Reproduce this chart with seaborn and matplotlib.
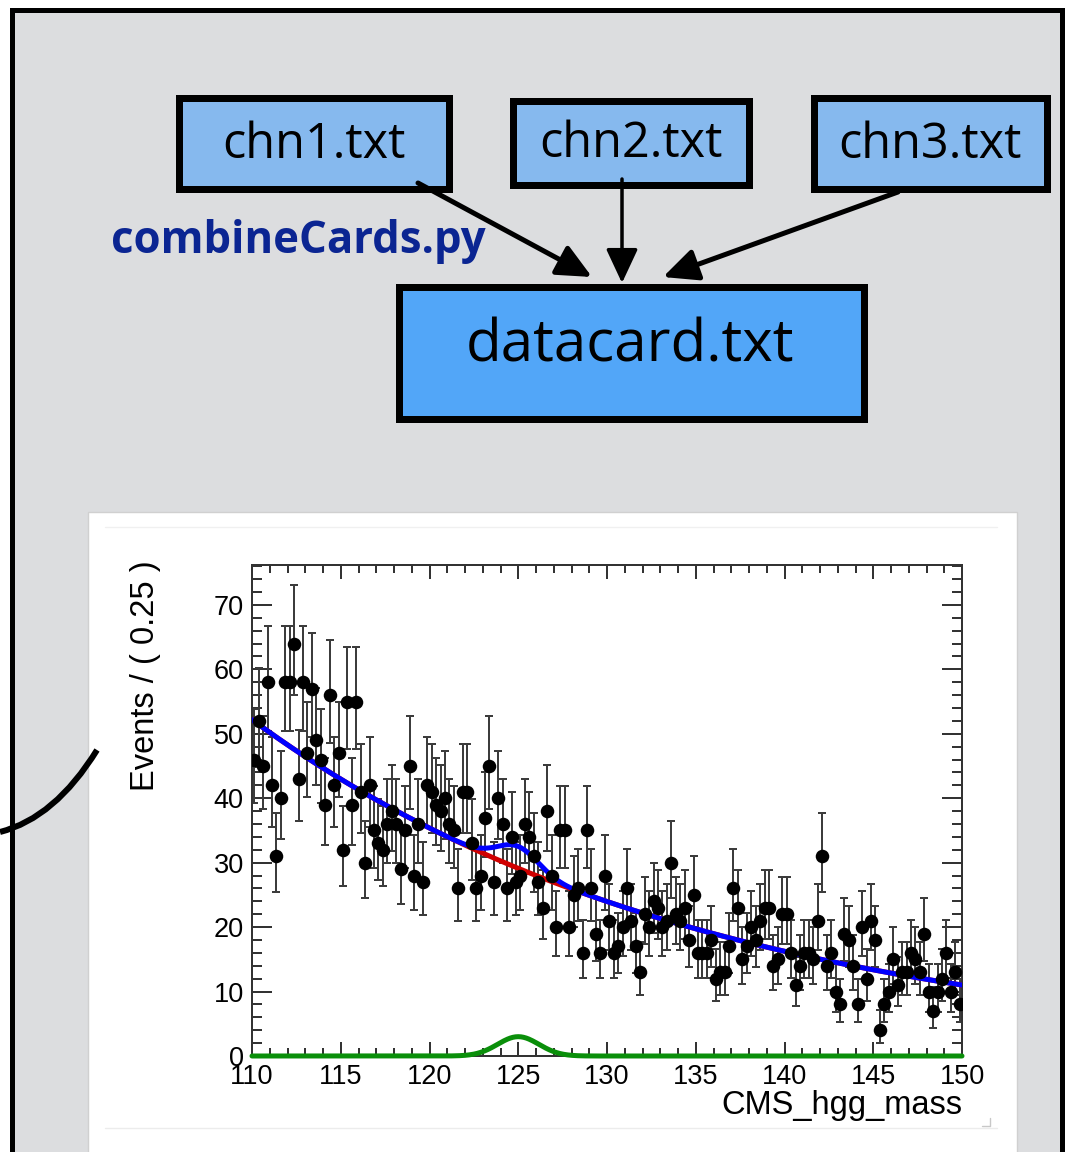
import numpy as np
import pandas as pd
import matplotlib
matplotlib.use("Agg")
import matplotlib.pyplot as plt
import seaborn as sns
from matplotlib.patches import Rectangle, FancyArrowPatch, PathPatch, ArrowStyle
from matplotlib.path import Path
from matplotlib.ticker import MultipleLocator

# ---------------- data ----------------
mass_lo, mass_hi, bin_width = 110.0, 150.0, 0.25

event_counts = [
    46, 52, 45, 58, 42, 31, 40, 58, 58, 64, 43, 58, 47, 57, 49, 46, 39, 56, 42, 47,
    32, 55, 39, 55, 41, 30, 42, 35, 33, 32, 36, 38, 36, 29, 35, 45, 28, 36, 27, 42,
    41, 39, 38, 40, 36, 35, 26, 41, 41, 33, 26, 28, 37, 45, 27, 40, 36, 26, 34, 27,
    28, 36, 34, 31, 27, 23, 38, 28, 20, 35, 35, 20, 25, 26, 16, 35, 26, 19, 16, 28,
    21, 16, 17, 20, 26, 21, 17, 13, 22, 20, 24, 23, 20, 21, 30, 22, 21, 23, 18, 25,
    16, 16, 16, 18, 12, 13, 13, 17, 26, 23, 15, 17, 20, 18, 21, 23, 23, 14, 15, 22,
    22, 16, 11, 14, 16, 16, 15, 21, 31, 14, 16, 10, 8, 19, 18, 14, 8, 20, 12, 21,
    18, 4, 8, 10, 15, 11, 13, 13, 16, 15, 13, 19, 10, 7, 10, 12, 16, 10, 13, 8,
]

# fitted model parameters
bkg_norm_at_110 = 52.2      # background density at 110 GeV (events / 0.25)
bkg_slope = -0.0389         # exponential slope per GeV
sig_mean = 125.0
sig_sigma = 1.16
sig_peak = 3.0              # signal component peak (events / 0.25)
sig_peak_in_total = 3.4     # signal contribution inside the total curve

x_ticks = [110, 115, 120, 125, 130, 135, 140, 145, 150]
y_ticks = [0, 10, 20, 30, 40, 50, 60, 70]

cards_in = ["chn1.txt", "chn2.txt", "chn3.txt"]
card_out = "datacard.txt"
tool_name = "combineCards.py"

# ---------------- derived ----------------
counts = np.array(event_counts, dtype=float)
centers = mass_lo + bin_width * (np.arange(len(counts)) + 0.5)
err_lo = counts - np.sqrt(np.maximum(counts - 0.25, 0))
err_hi = counts + np.sqrt(counts + 0.75) + 1.0
data = pd.DataFrame({"mass": centers, "events": counts})

grid = np.linspace(mass_lo, mass_hi, 801)
bkg = bkg_norm_at_110 * np.exp(bkg_slope * (grid - mass_lo))
shape = np.exp(-0.5 * ((grid - sig_mean) / sig_sigma) ** 2)
curves = pd.DataFrame({
    "mass": grid,
    "bkg": bkg,
    "total": bkg + sig_peak_in_total * shape,
    "sig": sig_peak * shape,
})

# ---------------- figure ----------------
W, H = 1067, 1152
sns.set_style("ticks")
plt.rcParams["font.family"] = ["Open Sans", "DejaVu Sans"]
fig = plt.figure(figsize=(W / 100, H / 100), dpi=100, facecolor="white")

bg = fig.add_axes([0, 0, 1, 1])
bg.set_xlim(0, W)
bg.set_ylim(H, 0)
bg.axis("off")

px = 0.72  # points per pixel at 100 dpi

# outer slide frame
bg.add_patch(Rectangle((12, 10), 1050, 1160, facecolor="#DCDDDF",
                       edgecolor="black", lw=5 * px, zorder=0))

# input cards
box_specs = [(175, 94, 452, 192), (509, 97, 752, 188), (810, 94, 1050, 192)]
for (x0, y0, x1, y1), name in zip(box_specs, cards_in):
    b = 3.5
    bg.add_patch(Rectangle((x0 + b, y0 + b), x1 - x0 - 2 * b, y1 - y0 - 2 * b,
                           facecolor="#86B9EE", edgecolor="black", lw=7 * px, zorder=2))
    bg.text((x0 + x1) / 2, (y0 + y1) / 2 + 2, name, ha="center", va="center",
            fontsize=35, color="black", zorder=3)

# combined card
x0, y0, x1, y1 = 395, 283, 867, 422
bg.add_patch(Rectangle((x0 + 3.5, y0 + 3.5), x1 - x0 - 7, y1 - y0 - 7,
                       facecolor="#52A6F8", edgecolor="black", lw=7 * px, zorder=2))
bg.text(630, 346, card_out, ha="center", va="center", fontsize=42, color="black", zorder=3)

bg.text(111, 242, tool_name, ha="left", va="center", fontsize=31.5,
        fontweight="bold", color="#0B2592", zorder=3)

# arrows into the combined card
head = ArrowStyle("-|>", head_length=1.5, head_width=0.7)
for (xa, ya), (xb, yb), lw in [((418, 183), (592, 277), 5),
                               ((622, 179), (622, 283), 3.5),
                               ((898, 192), (663, 277), 5)]:
    bg.add_patch(FancyArrowPatch((xa, ya), (xb, yb), arrowstyle=head,
                                 mutation_scale=14, lw=lw * px, color="black",
                                 shrinkA=0, shrinkB=0, zorder=4))

# connector curve on the left
conn = Path([(0, 832), (55, 818), (97, 750)], [Path.MOVETO, Path.CURVE3, Path.CURVE3])
bg.add_patch(PathPatch(conn, facecolor="none", edgecolor="black", lw=6 * px,
                       capstyle="butt", zorder=3))

# white canvas holding the fit plot
bg.add_patch(Rectangle((88, 512), 929, 660, facecolor="white",
                       edgecolor="#d0d0d0", lw=1, zorder=1))
bg.plot([105, 997], [527, 527], color="#f0f0f0", lw=1, zorder=1.5)
bg.plot([105, 997], [1128, 1128], color="#ececec", lw=1, zorder=1.5)
bg.plot([982, 990, 990], [1126, 1126, 1118], color="#c8c8c8", lw=1, zorder=1.5)

# ---------------- fit plot ----------------
ax_l, ax_r, ax_t, ax_b = 252, 962, 565, 1056
ax = fig.add_axes([ax_l / W, 1 - ax_b / H, (ax_r - ax_l) / W, (ax_b - ax_t) / H])
ax.set_facecolor("white")

root_font = ["Liberation Sans", "DejaVu Sans"]
frame_col = "#333333"
thin = 2.0 * px

ax.errorbar(centers, counts, yerr=[counts - err_lo, err_hi - counts], fmt="none",
            ecolor="#3c3c3c", elinewidth=thin, capsize=3.2,
            capthick=thin, zorder=2)
sns.lineplot(data=curves, x="mass", y="bkg", color="#D00000", lw=5 * px,
             ax=ax, zorder=3, legend=False)
sns.lineplot(data=curves, x="mass", y="total", color="#0000FF", lw=5 * px,
             ax=ax, zorder=4, legend=False)
sns.lineplot(data=curves, x="mass", y="sig", color="#0A8F0A", lw=5 * px,
             ax=ax, zorder=4, legend=False)
ax.get_lines()[-1].set_clip_on(False)
sns.scatterplot(data=data, x="mass", y="events", color="black", s=95,
                edgecolor="black", linewidth=0, ax=ax, zorder=5, legend=False)

ax.set_xlim(mass_lo, mass_hi)
ax.set_ylim(0, 76.2)
ax.set_xticks(x_ticks)
ax.set_xticklabels([str(t) for t in x_ticks])
ax.set_yticks(y_ticks)
ax.set_yticklabels([str(t) for t in y_ticks])
ax.xaxis.set_minor_locator(MultipleLocator(1))
ax.yaxis.set_minor_locator(MultipleLocator(2))
ax.tick_params(which="both", direction="in", top=True, right=True, colors=frame_col)
ax.tick_params(which="major", axis="x", length=14 * px, width=thin, pad=6)
ax.tick_params(which="minor", axis="x", length=8 * px, width=thin)
ax.tick_params(which="major", axis="y", length=20 * px, width=thin, pad=6)
ax.tick_params(which="minor", axis="y", length=10 * px, width=thin)
for lab in ax.get_xticklabels() + ax.get_yticklabels():
    lab.set_family(root_font)
    lab.set_fontsize(19.5)
    lab.set_color("black")
for sp in ax.spines.values():
    sp.set_color(frame_col)
    sp.set_linewidth(thin)
    sp.set_visible(True)

ax.set_xlabel("CMS_hgg_mass", family=root_font, fontsize=23.5, color="black",
              ha="right", va="top")
ax.xaxis.set_label_coords(1.0, -0.07)
ax.set_ylabel("Events / ( 0.25 )", family=root_font, fontsize=23.5, color="black")
ax.yaxis.set_label_coords(-0.128, 0.775)

fig.savefig("out.png", dpi=100, facecolor=fig.get_facecolor())
